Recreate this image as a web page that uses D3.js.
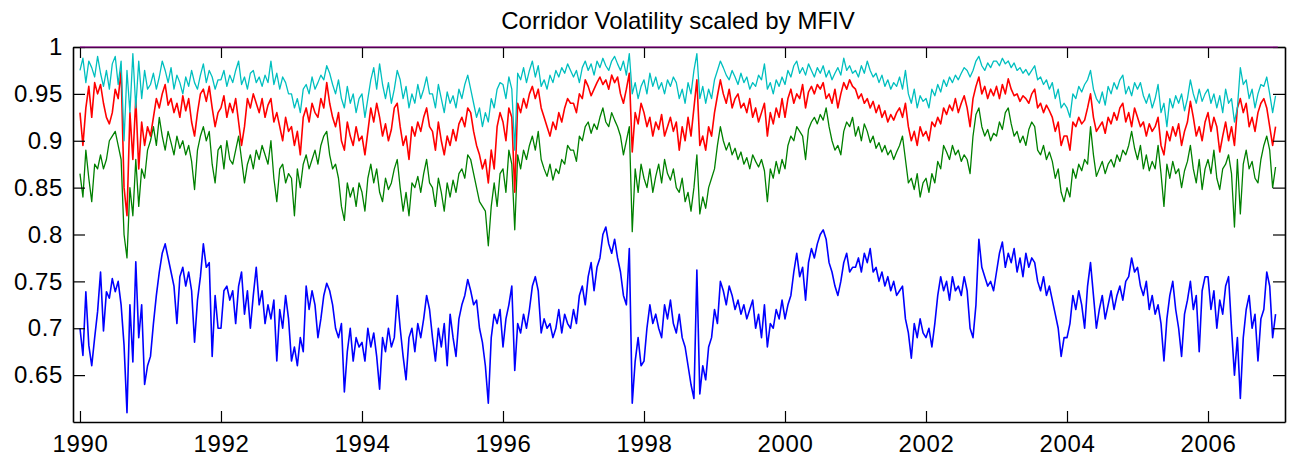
<!DOCTYPE html>
<html>
<head>
<meta charset="utf-8">
<script src="https://cdn.jsdelivr.net/npm/d3@7"></script>
<style>
  body { margin: 0; background: #fff; }
  svg { display: block; }
  text { font-family: "Liberation Sans", Arial, Helvetica, sans-serif; fill: #000; }
</style>
</head>
<body>
<svg width="1289" height="459"></svg>
<script>
// **** Data: semi-monthly readings, 1990.0 onwards (24 per year) ****

var startYear = 1990;
var stepsPerYear = 24;

var xTicks = [1990, 1992, 1994, 1996, 1998, 2000, 2002, 2004, 2006];
var yTicks = [0.65, 0.7, 0.75, 0.8, 0.85, 0.9, 0.95, 1];

// corridor level at 1 (drawn along the top edge)
var levelDates = [1990, 2006.99];
var levelValues = [1, 1];

var blueSeries = [
  0.700, 0.671, 0.739, 0.682, 0.660, 0.690, 0.718, 0.760, 0.697, 0.739, 0.732, 0.753, 0.739, 0.750, 0.725, 0.682, 0.610, 0.725, 0.664, 0.771, 0.690, 0.725, 0.640, 0.660, // 1990
  0.670, 0.705, 0.735, 0.760, 0.780, 0.790, 0.775, 0.760, 0.745, 0.705, 0.755, 0.765, 0.745, 0.760, 0.740, 0.685, 0.730, 0.755, 0.790, 0.765, 0.770, 0.670, 0.735, 0.700, // 1991
  0.700, 0.740, 0.745, 0.730, 0.740, 0.705, 0.745, 0.760, 0.715, 0.740, 0.700, 0.735, 0.765, 0.725, 0.740, 0.705, 0.725, 0.710, 0.730, 0.665, 0.720, 0.700, 0.735, 0.710, // 1992
  0.665, 0.680, 0.660, 0.690, 0.675, 0.745, 0.720, 0.740, 0.725, 0.690, 0.710, 0.735, 0.748, 0.740, 0.725, 0.700, 0.690, 0.705, 0.632, 0.675, 0.700, 0.665, 0.690, 0.680, // 1993
  0.685, 0.665, 0.700, 0.680, 0.695, 0.670, 0.635, 0.690, 0.675, 0.700, 0.680, 0.690, 0.735, 0.700, 0.670, 0.645, 0.690, 0.700, 0.675, 0.705, 0.690, 0.710, 0.735, 0.720, // 1994
  0.690, 0.665, 0.700, 0.680, 0.705, 0.660, 0.715, 0.690, 0.670, 0.710, 0.725, 0.735, 0.752, 0.740, 0.725, 0.730, 0.700, 0.685, 0.660, 0.620, 0.690, 0.715, 0.705, 0.720, // 1995
  0.680, 0.710, 0.725, 0.745, 0.655, 0.705, 0.695, 0.715, 0.700, 0.720, 0.745, 0.755, 0.740, 0.695, 0.710, 0.700, 0.705, 0.690, 0.700, 0.720, 0.695, 0.715, 0.705, 0.700, // 1996
  0.720, 0.705, 0.735, 0.745, 0.725, 0.755, 0.770, 0.740, 0.765, 0.775, 0.800, 0.808, 0.790, 0.780, 0.795, 0.775, 0.760, 0.735, 0.725, 0.785, 0.620, 0.665, 0.690, 0.660, // 1997
  0.665, 0.700, 0.725, 0.705, 0.715, 0.700, 0.690, 0.725, 0.710, 0.730, 0.705, 0.695, 0.715, 0.690, 0.680, 0.660, 0.640, 0.625, 0.762, 0.630, 0.660, 0.645, 0.680, 0.690, // 1998
  0.720, 0.705, 0.750, 0.740, 0.725, 0.745, 0.735, 0.720, 0.730, 0.715, 0.725, 0.710, 0.720, 0.730, 0.700, 0.715, 0.690, 0.725, 0.680, 0.705, 0.700, 0.720, 0.710, 0.730, // 1999
  0.710, 0.725, 0.735, 0.760, 0.780, 0.755, 0.765, 0.730, 0.770, 0.785, 0.775, 0.790, 0.800, 0.805, 0.795, 0.770, 0.760, 0.745, 0.735, 0.750, 0.770, 0.780, 0.760, 0.765, // 2000
  0.765, 0.775, 0.760, 0.780, 0.770, 0.785, 0.760, 0.765, 0.750, 0.760, 0.745, 0.755, 0.740, 0.750, 0.735, 0.740, 0.745, 0.710, 0.695, 0.668, 0.705, 0.690, 0.710, 0.695, // 2001
  0.690, 0.700, 0.680, 0.705, 0.735, 0.755, 0.740, 0.750, 0.730, 0.755, 0.740, 0.745, 0.735, 0.755, 0.740, 0.700, 0.690, 0.725, 0.795, 0.765, 0.755, 0.745, 0.750, 0.740, // 2002
  0.760, 0.780, 0.792, 0.765, 0.780, 0.770, 0.785, 0.760, 0.775, 0.755, 0.780, 0.765, 0.775, 0.770, 0.750, 0.740, 0.755, 0.735, 0.745, 0.730, 0.715, 0.700, 0.670, 0.690, // 2003
  0.690, 0.705, 0.735, 0.720, 0.740, 0.725, 0.700, 0.745, 0.770, 0.735, 0.700, 0.720, 0.735, 0.710, 0.725, 0.740, 0.720, 0.735, 0.745, 0.730, 0.750, 0.755, 0.775, 0.760, // 2004
  0.765, 0.745, 0.735, 0.750, 0.720, 0.735, 0.715, 0.725, 0.705, 0.665, 0.710, 0.735, 0.750, 0.720, 0.700, 0.670, 0.715, 0.730, 0.750, 0.720, 0.735, 0.675, 0.740, 0.755, // 2005
  0.755, 0.720, 0.740, 0.700, 0.730, 0.715, 0.745, 0.755, 0.700, 0.650, 0.690, 0.625, 0.690, 0.720, 0.735, 0.700, 0.715, 0.665, 0.710, 0.720, 0.760, 0.745, 0.690, 0.715  // 2006
];

var greenSeries = [
  0.865, 0.840, 0.890, 0.860, 0.835, 0.875, 0.870, 0.885, 0.870, 0.880, 0.900, 0.905, 0.910, 0.895, 0.880, 0.800, 0.775, 0.850, 0.820, 0.880, 0.830, 0.870, 0.860, 0.890, // 1990
  0.900, 0.915, 0.895, 0.925, 0.905, 0.890, 0.910, 0.898, 0.885, 0.905, 0.892, 0.900, 0.885, 0.895, 0.878, 0.848, 0.890, 0.905, 0.915, 0.900, 0.910, 0.875, 0.855, 0.890, // 1991
  0.895, 0.870, 0.900, 0.880, 0.875, 0.890, 0.905, 0.880, 0.855, 0.875, 0.885, 0.870, 0.890, 0.880, 0.895, 0.885, 0.875, 0.900, 0.860, 0.835, 0.870, 0.875, 0.855, 0.865, // 1992
  0.860, 0.820, 0.870, 0.850, 0.875, 0.885, 0.870, 0.880, 0.890, 0.875, 0.895, 0.905, 0.910, 0.885, 0.870, 0.875, 0.860, 0.830, 0.815, 0.855, 0.840, 0.850, 0.830, 0.855, // 1993
  0.845, 0.825, 0.860, 0.875, 0.855, 0.870, 0.845, 0.835, 0.860, 0.848, 0.855, 0.870, 0.880, 0.850, 0.825, 0.845, 0.820, 0.855, 0.850, 0.862, 0.845, 0.865, 0.880, 0.855, // 1994
  0.850, 0.830, 0.860, 0.845, 0.825, 0.855, 0.840, 0.858, 0.845, 0.865, 0.870, 0.860, 0.885, 0.880, 0.865, 0.850, 0.835, 0.830, 0.825, 0.788, 0.830, 0.855, 0.830, 0.865, // 1995
  0.870, 0.845, 0.890, 0.875, 0.805, 0.885, 0.870, 0.890, 0.880, 0.895, 0.905, 0.890, 0.910, 0.880, 0.870, 0.862, 0.875, 0.858, 0.870, 0.865, 0.880, 0.875, 0.895, 0.890, // 1996
  0.890, 0.878, 0.905, 0.900, 0.915, 0.920, 0.908, 0.918, 0.912, 0.925, 0.935, 0.920, 0.915, 0.930, 0.922, 0.915, 0.905, 0.885, 0.900, 0.915, 0.803, 0.870, 0.845, 0.875, // 1997
  0.860, 0.850, 0.870, 0.845, 0.862, 0.875, 0.855, 0.880, 0.865, 0.858, 0.870, 0.850, 0.845, 0.860, 0.835, 0.845, 0.825, 0.850, 0.885, 0.822, 0.840, 0.828, 0.850, 0.860, // 1998
  0.870, 0.895, 0.915, 0.900, 0.890, 0.898, 0.885, 0.892, 0.880, 0.888, 0.875, 0.882, 0.870, 0.885, 0.878, 0.872, 0.880, 0.868, 0.835, 0.870, 0.860, 0.878, 0.865, 0.880, // 1999
  0.870, 0.895, 0.905, 0.900, 0.915, 0.910, 0.905, 0.880, 0.912, 0.920, 0.925, 0.918, 0.928, 0.922, 0.935, 0.915, 0.900, 0.890, 0.895, 0.885, 0.910, 0.920, 0.915, 0.925, // 2000
  0.905, 0.915, 0.900, 0.918, 0.910, 0.898, 0.905, 0.892, 0.898, 0.888, 0.895, 0.885, 0.890, 0.880, 0.888, 0.895, 0.905, 0.880, 0.855, 0.860, 0.848, 0.865, 0.840, 0.855, // 2001
  0.860, 0.845, 0.865, 0.855, 0.878, 0.870, 0.895, 0.888, 0.880, 0.895, 0.885, 0.890, 0.878, 0.885, 0.880, 0.865, 0.905, 0.928, 0.935, 0.915, 0.905, 0.912, 0.900, 0.908, // 2002
  0.905, 0.920, 0.912, 0.930, 0.935, 0.918, 0.905, 0.910, 0.898, 0.905, 0.895, 0.912, 0.920, 0.915, 0.890, 0.885, 0.895, 0.880, 0.888, 0.878, 0.860, 0.870, 0.845, 0.835, // 2003
  0.850, 0.840, 0.870, 0.860, 0.875, 0.868, 0.880, 0.875, 0.915, 0.885, 0.862, 0.870, 0.878, 0.865, 0.875, 0.880, 0.872, 0.885, 0.878, 0.890, 0.885, 0.895, 0.910, 0.892, // 2004
  0.880, 0.895, 0.870, 0.885, 0.868, 0.878, 0.870, 0.895, 0.865, 0.830, 0.875, 0.860, 0.878, 0.865, 0.870, 0.850, 0.868, 0.878, 0.895, 0.870, 0.855, 0.880, 0.848, 0.870, // 2005
  0.880, 0.865, 0.890, 0.860, 0.848, 0.870, 0.875, 0.885, 0.865, 0.808, 0.880, 0.822, 0.875, 0.890, 0.870, 0.878, 0.860, 0.855, 0.880, 0.895, 0.905, 0.890, 0.850, 0.872  // 2006
];

var redSeries = [
  0.930, 0.895, 0.935, 0.958, 0.925, 0.962, 0.950, 0.960, 0.940, 0.925, 0.918, 0.930, 0.955, 0.945, 0.975, 0.850, 0.820, 0.930, 0.880, 0.945, 0.870, 0.920, 0.895, 0.915, // 1990
  0.905, 0.925, 0.945, 0.935, 0.950, 0.960, 0.938, 0.945, 0.930, 0.940, 0.925, 0.948, 0.932, 0.945, 0.920, 0.905, 0.930, 0.950, 0.955, 0.942, 0.958, 0.935, 0.915, 0.930, // 1991
  0.935, 0.948, 0.925, 0.940, 0.930, 0.945, 0.920, 0.895, 0.915, 0.945, 0.935, 0.950, 0.940, 0.930, 0.945, 0.925, 0.938, 0.945, 0.920, 0.930, 0.915, 0.900, 0.925, 0.910, // 1992
  0.915, 0.895, 0.910, 0.885, 0.925, 0.935, 0.920, 0.940, 0.930, 0.925, 0.945, 0.935, 0.962, 0.940, 0.925, 0.915, 0.930, 0.900, 0.890, 0.920, 0.905, 0.895, 0.915, 0.900, // 1993
  0.905, 0.885, 0.910, 0.935, 0.920, 0.940, 0.925, 0.905, 0.918, 0.900, 0.912, 0.935, 0.940, 0.915, 0.895, 0.905, 0.880, 0.915, 0.905, 0.920, 0.910, 0.925, 0.935, 0.915, // 1994
  0.910, 0.890, 0.920, 0.900, 0.885, 0.905, 0.895, 0.912, 0.900, 0.918, 0.925, 0.915, 0.935, 0.930, 0.910, 0.895, 0.885, 0.870, 0.880, 0.855, 0.890, 0.870, 0.915, 0.930, // 1995
  0.920, 0.900, 0.935, 0.925, 0.845, 0.940, 0.930, 0.945, 0.935, 0.950, 0.958, 0.945, 0.955, 0.935, 0.925, 0.915, 0.905, 0.920, 0.912, 0.930, 0.920, 0.935, 0.945, 0.940, // 1996
  0.940, 0.930, 0.950, 0.945, 0.965, 0.958, 0.948, 0.955, 0.962, 0.968, 0.960, 0.965, 0.955, 0.970, 0.962, 0.968, 0.950, 0.940, 0.955, 0.972, 0.888, 0.930, 0.918, 0.940, // 1997
  0.930, 0.915, 0.925, 0.905, 0.920, 0.912, 0.928, 0.905, 0.915, 0.925, 0.910, 0.920, 0.890, 0.915, 0.900, 0.925, 0.905, 0.935, 0.965, 0.895, 0.905, 0.890, 0.915, 0.905, // 1998
  0.930, 0.948, 0.965, 0.950, 0.940, 0.955, 0.935, 0.945, 0.950, 0.935, 0.940, 0.930, 0.945, 0.925, 0.935, 0.920, 0.930, 0.940, 0.905, 0.930, 0.918, 0.935, 0.925, 0.945, // 1999
  0.925, 0.945, 0.955, 0.940, 0.950, 0.945, 0.960, 0.935, 0.952, 0.958, 0.950, 0.960, 0.955, 0.962, 0.945, 0.950, 0.940, 0.955, 0.935, 0.950, 0.962, 0.955, 0.965, 0.958, // 2000
  0.955, 0.945, 0.950, 0.940, 0.945, 0.935, 0.942, 0.930, 0.938, 0.925, 0.932, 0.920, 0.928, 0.922, 0.930, 0.935, 0.925, 0.940, 0.915, 0.900, 0.910, 0.895, 0.915, 0.905, // 2001
  0.910, 0.900, 0.920, 0.915, 0.925, 0.918, 0.935, 0.928, 0.938, 0.932, 0.945, 0.930, 0.940, 0.948, 0.935, 0.915, 0.945, 0.958, 0.968, 0.950, 0.958, 0.945, 0.955, 0.948, // 2002
  0.958, 0.945, 0.960, 0.950, 0.966, 0.955, 0.948, 0.950, 0.942, 0.948, 0.945, 0.940, 0.950, 0.955, 0.935, 0.940, 0.930, 0.938, 0.932, 0.925, 0.910, 0.920, 0.895, 0.905, // 2003
  0.905, 0.890, 0.920, 0.915, 0.925, 0.918, 0.922, 0.935, 0.950, 0.925, 0.910, 0.915, 0.920, 0.908, 0.925, 0.918, 0.930, 0.922, 0.935, 0.940, 0.920, 0.930, 0.915, 0.935, // 2004
  0.925, 0.915, 0.920, 0.905, 0.918, 0.910, 0.915, 0.925, 0.895, 0.885, 0.910, 0.900, 0.915, 0.905, 0.918, 0.895, 0.910, 0.920, 0.942, 0.925, 0.905, 0.915, 0.900, 0.920, // 2005
  0.930, 0.910, 0.925, 0.915, 0.888, 0.905, 0.920, 0.900, 0.915, 0.895, 0.935, 0.945, 0.930, 0.940, 0.915, 0.925, 0.910, 0.930, 0.940, 0.945, 0.935, 0.915, 0.895, 0.915  // 2006
];

var cyanSeries = [
  0.975, 0.988, 0.962, 0.985, 0.978, 0.968, 0.990, 0.972, 0.958, 0.975, 0.955, 0.982, 0.990, 0.960, 0.985, 0.900, 0.975, 0.930, 0.993, 0.935, 0.985, 0.945, 0.975, 0.955, // 1990
  0.960, 0.972, 0.955, 0.968, 0.985, 0.975, 0.962, 0.978, 0.955, 0.970, 0.962, 0.950, 0.968, 0.958, 0.975, 0.962, 0.955, 0.970, 0.982, 0.962, 0.975, 0.968, 0.955, 0.965, // 1991
  0.965, 0.975, 0.958, 0.970, 0.962, 0.975, 0.985, 0.960, 0.968, 0.955, 0.972, 0.975, 0.962, 0.968, 0.958, 0.970, 0.962, 0.985, 0.960, 0.972, 0.955, 0.968, 0.962, 0.950, // 1992
  0.950, 0.935, 0.945, 0.930, 0.955, 0.960, 0.950, 0.968, 0.955, 0.962, 0.970, 0.965, 0.980, 0.972, 0.960, 0.950, 0.965, 0.945, 0.935, 0.958, 0.940, 0.950, 0.930, 0.945, // 1993
  0.950, 0.925, 0.945, 0.965, 0.978, 0.955, 0.982, 0.960, 0.945, 0.962, 0.940, 0.955, 0.975, 0.965, 0.945, 0.958, 0.935, 0.950, 0.940, 0.960, 0.945, 0.955, 0.968, 0.950, // 1994
  0.950, 0.935, 0.960, 0.945, 0.930, 0.952, 0.940, 0.948, 0.935, 0.955, 0.945, 0.960, 0.970, 0.955, 0.940, 0.925, 0.935, 0.915, 0.930, 0.920, 0.945, 0.935, 0.955, 0.962, // 1995
  0.960, 0.945, 0.968, 0.955, 0.890, 0.972, 0.965, 0.978, 0.962, 0.975, 0.985, 0.968, 0.980, 0.958, 0.965, 0.955, 0.970, 0.962, 0.975, 0.968, 0.978, 0.972, 0.982, 0.975, // 1996
  0.968, 0.975, 0.962, 0.978, 0.985, 0.975, 0.982, 0.970, 0.985, 0.978, 0.988, 0.980, 0.975, 0.985, 0.990, 0.982, 0.975, 0.985, 0.970, 0.993, 0.950, 0.962, 0.945, 0.958, // 1997
  0.965, 0.950, 0.972, 0.958, 0.968, 0.955, 0.962, 0.950, 0.965, 0.958, 0.968, 0.962, 0.945, 0.955, 0.940, 0.962, 0.950, 0.975, 0.993, 0.945, 0.958, 0.940, 0.955, 0.945, // 1998
  0.965, 0.975, 0.985, 0.978, 0.970, 0.965, 0.975, 0.968, 0.960, 0.972, 0.962, 0.968, 0.955, 0.962, 0.958, 0.970, 0.965, 0.982, 0.955, 0.962, 0.950, 0.965, 0.958, 0.968, // 1999
  0.960, 0.975, 0.968, 0.980, 0.985, 0.972, 0.978, 0.970, 0.982, 0.975, 0.968, 0.978, 0.972, 0.980, 0.968, 0.975, 0.965, 0.972, 0.978, 0.970, 0.988, 0.975, 0.980, 0.972, // 2000
  0.975, 0.968, 0.980, 0.972, 0.985, 0.975, 0.968, 0.972, 0.962, 0.970, 0.958, 0.965, 0.955, 0.962, 0.958, 0.968, 0.955, 0.975, 0.950, 0.940, 0.955, 0.935, 0.948, 0.942, // 2001
  0.945, 0.935, 0.955, 0.948, 0.960, 0.952, 0.965, 0.958, 0.968, 0.962, 0.970, 0.965, 0.972, 0.978, 0.975, 0.968, 0.975, 0.985, 0.990, 0.980, 0.975, 0.983, 0.978, 0.985, // 2002
  0.985, 0.980, 0.988, 0.982, 0.985, 0.978, 0.983, 0.975, 0.978, 0.972, 0.976, 0.970, 0.975, 0.980, 0.965, 0.968, 0.960, 0.965, 0.955, 0.962, 0.945, 0.955, 0.935, 0.940, // 2003
  0.935, 0.925, 0.950, 0.945, 0.958, 0.952, 0.960, 0.965, 0.975, 0.955, 0.945, 0.940, 0.952, 0.938, 0.958, 0.950, 0.962, 0.955, 0.965, 0.970, 0.950, 0.958, 0.948, 0.962, // 2004
  0.955, 0.962, 0.948, 0.940, 0.950, 0.935, 0.945, 0.960, 0.930, 0.940, 0.915, 0.945, 0.935, 0.948, 0.940, 0.950, 0.932, 0.945, 0.965, 0.950, 0.940, 0.955, 0.942, 0.950, // 2005
  0.955, 0.940, 0.950, 0.935, 0.948, 0.930, 0.955, 0.940, 0.945, 0.920, 0.935, 0.978, 0.960, 0.965, 0.945, 0.955, 0.935, 0.950, 0.960, 0.958, 0.968, 0.950, 0.930, 0.948  // 2006
];

// **** Scales, axes and labels ****

var svg = d3.select('svg');

var plotLeft = 73, plotRight = 1285, plotTop = 47, plotBottom = 422;

var xScale = d3.scaleLinear()
    .domain([1989.901, 2007.092]).range([plotLeft, plotRight]);

var yScale = d3.scaleLinear()
    .domain([0.6, 1]).range([plotBottom, plotTop]);

function dateAt(i) {
    return startYear + i / stepsPerYear;
}

var line = d3.line()
    .x(d => xScale(d[0]))
    .y(d => yScale(d[1]));

// plotting order as in the original: blue, green, red, cyan, then the level at 1
var seriesList = [
    { name: 'blue', values: blueSeries, color: '#0000ff', width: 1.6 },
    { name: 'green', values: greenSeries, color: '#008000', width: 1.3 },
    { name: 'red', values: redSeries, color: '#ff0000', width: 1.6 },
    { name: 'cyan', values: cyanSeries, color: '#00bfbf', width: 1.3 }
];

seriesList.forEach(function(s) {
    svg.append('path')
        .attr('class', 'series ' + s.name)
        .datum(s.values.map((v, i) => [dateAt(i), v]))
        .attr('fill', 'none')
        .attr('stroke', s.color)
        .attr('stroke-width', s.width)
        .attr('stroke-linejoin', 'round')
        .attr('d', line);
});

// box with inward ticks on all four sides
svg.append('g').attr('class', 'x axis')
    .attr('transform', `translate(0,${plotBottom})`)
    .call(d3.axisBottom(xScale).tickValues(xTicks).tickFormat(d => d)
        .tickSizeInner(-11).tickSizeOuter(0).tickPadding(13));

svg.append('g').attr('class', 'x axis top')
    .attr('transform', `translate(0,${plotTop})`)
    .call(d3.axisTop(xScale).tickValues(xTicks).tickFormat('')
        .tickSizeInner(-11).tickSizeOuter(0));

svg.append('g').attr('class', 'y axis')
    .attr('transform', `translate(${plotLeft},0)`)
    .call(d3.axisLeft(yScale).tickValues(yTicks).tickFormat(d => d)
        .tickSizeInner(-12).tickSizeOuter(0).tickPadding(10));

svg.append('g').attr('class', 'y axis right')
    .attr('transform', `translate(${plotRight},0)`)
    .call(d3.axisRight(yScale).tickValues(yTicks).tickFormat('')
        .tickSizeInner(-12).tickSizeOuter(0));

svg.selectAll('.axis path.domain')
    .attr('stroke', '#000')
    .attr('stroke-width', 1.6);

svg.selectAll('.axis line')
    .attr('stroke', '#000')
    .attr('stroke-width', 1.2);

svg.selectAll('.axis text')
    .style('font-size', '24px')
    .style('letter-spacing', '0.6px')
    .style('font-family', '"Liberation Sans", Arial, sans-serif')
    .attr('fill', '#000');

// level at 1, drawn on top of the upper edge
svg.append('path')
    .attr('class', 'series level')
    .datum(levelDates.map((t, i) => [t, levelValues[i]]))
    .attr('fill', 'none')
    .attr('stroke', '#a000a0')
    .attr('stroke-width', 1.2)
    .attr('d', line);

svg.append('text')
    .attr('class', 'graph title')
    .attr('text-anchor', 'middle')
    .attr('x', 678)
    .attr('y', 29)
    .style('font-size', '24px')
    .text('Corridor Volatility scaled by MFIV');
</script>
</body>
</html>
